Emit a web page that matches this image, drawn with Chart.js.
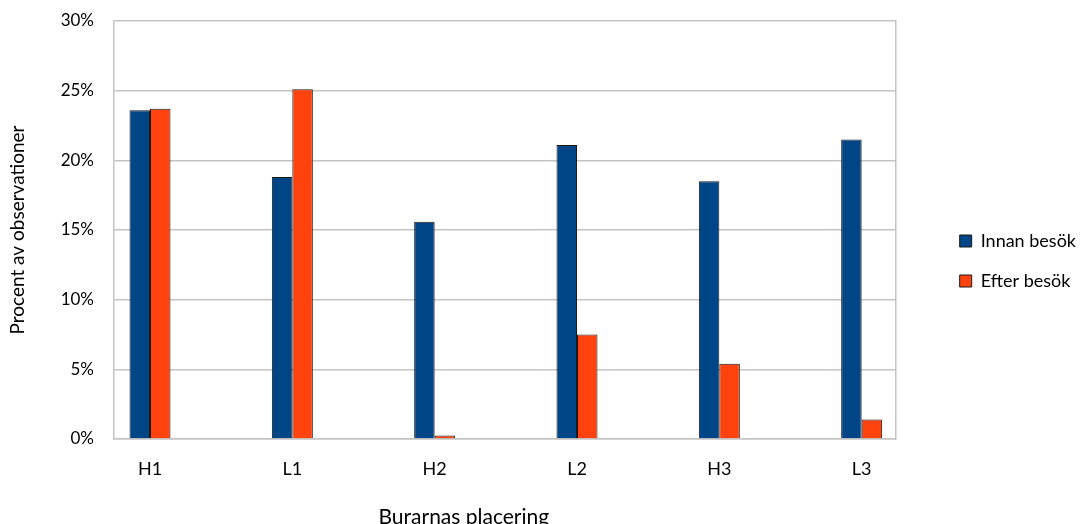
<!DOCTYPE html>
<html lang="sv">
<head>
    <meta charset="UTF-8">
    <title>Burarnas placering</title>
    <script src="https://cdn.jsdelivr.net/npm/chart.js"></script>
    <style>
        html, body { margin: 0; padding: 0; background: #fff; }
        #wrap { width: 1086px; height: 524px; }
    </style>
</head>
<body>
<div id="wrap"><canvas id="myBarChart"></canvas></div>

<script>
    const categories = ['H1', 'L1', 'H2', 'L2', 'H3', 'L3'];
    const innan = [23.6, 18.8, 15.6, 21.1, 18.5, 21.5];   // Innan besök, %
    const efter = [23.7, 25.1, 0.25, 7.5, 5.4, 1.4];      // Efter besök, %

    const gridGray = '#c4c4c4';
    const font = 'Lato, "Open Sans", sans-serif';

    // x title sits left of the plot centre, partly cut off at the bottom
    const xTitle = {
        id: 'xTitle',
        afterDraw(chart) {
            const c = chart.ctx;
            c.save();
            c.font = '21px ' + font;
            c.fillStyle = '#000';
            c.textAlign = 'center';
            c.textBaseline = 'alphabetic';
            const a = chart.chartArea;
            c.fillText('Burarnas placering', (a.left + a.right) / 2 - 41, 524);
            c.restore();
        }
    };

    const ctx = document.getElementById('myBarChart').getContext('2d');

    new Chart(ctx, {
        type: 'bar',
        data: {
            datasets: [{
                label: 'Innan besök',
                data: innan.map((v, i) => ({ x: i, y: v })),
                backgroundColor: '#004586',
                borderColor: '#1a1a1a',
                borderWidth: 1
            }, {
                label: 'Efter besök',
                data: efter.map((v, i) => ({ x: i, y: v })),
                backgroundColor: '#ff420e',
                borderColor: '#1a1a1a',
                borderWidth: 1
            }]
        },
        options: {
            responsive: true,
            maintainAspectRatio: false,
            animation: false,
            categoryPercentage: 0.288,
            barPercentage: 1,
            layout: { padding: { top: 21, right: 0, bottom: 23, left: 0 } },
            plugins: {
                tooltip: { enabled: false },
                legend: {
                    position: 'right',
                    align: 'center',
                    labels: {
                        boxWidth: 12,
                        boxHeight: 12,
                        padding: 22,
                        color: '#000',
                        font: { family: font, size: 18 }
                    }
                }
            },
            scales: {
                x: {
                    type: 'linear',
                    offset: false,
                    min: -0.253,
                    max: 5.239,
                    grid: { display: false },
                    border: { color: gridGray, width: 1.5 },
                    ticks: {
                        stepSize: 1,
                        includeBounds: false,
                        autoSkip: false,
                        padding: 11,
                        color: '#000',
                        font: { family: font, size: 18 },
                        callback: (v) => categories[v] ?? ''
                    },
                    afterFit: (scale) => { scale.height = 62; }
                },
                y: {
                    min: 0,
                    max: 30,
                    // invisible tick marks keep the labels clear of the axis
                    grid: { color: gridGray, lineWidth: 1.5, tickLength: 18, tickColor: 'rgba(0,0,0,0)' },
                    border: { color: gridGray, width: 1.5 },
                    ticks: {
                        stepSize: 5,
                        padding: 2,
                        color: '#000',
                        font: { family: font, size: 17 },
                        callback: (v) => v + '%'
                    },
                    title: {
                        display: true,
                        text: 'Procent av observationer',
                        color: '#000',
                        font: { family: font, size: 19 },
                        padding: { top: 6, bottom: 0 }
                    },
                    afterFit: (scale) => { scale.width = 114; }
                },
                y2: {
                    position: 'right',
                    min: 0,
                    max: 30,
                    grid: { drawOnChartArea: false, drawTicks: false },
                    border: { color: gridGray, width: 1.5 },
                    ticks: { display: false },
                    afterFit: (scale) => { scale.width = 42; }
                }
            }
        },
        plugins: [xTitle]
    });
</script>
</body>
</html>
